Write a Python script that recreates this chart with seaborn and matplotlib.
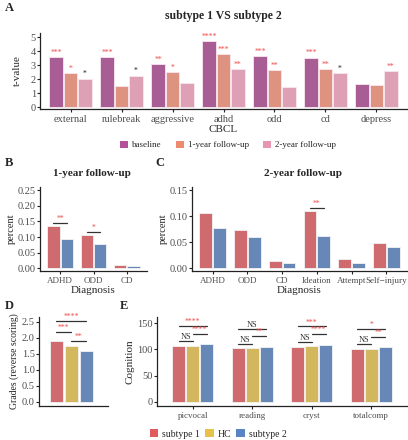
import numpy as np
import pandas as pd
import matplotlib
matplotlib.use('Agg')
import matplotlib.pyplot as plt
from matplotlib.patches import Patch
import seaborn as sns

# ---- A: CBCL t-values, subtype 1 vs subtype 2
cbcl_scales = ['external', 'rulebreak', 'aggressive', 'adhd', 'odd', 'cd', 'depress']
timepoints = ['baseline', '1-year follow-up', '2-year follow-up']
t_baseline = [3.6, 3.6, 3.1, 4.7, 3.65, 3.55, 1.65]
t_year1 = [2.45, 1.5, 2.5, 3.8, 2.65, 2.7, 1.6]
t_year2 = [2.05, 2.25, 1.75, 2.7, 1.45, 2.45, 2.6]
stars_baseline = ['***', '***', '**', '****', '***', '***', '']
stars_year1 = ['*', '', '*', '***', '**', '**', '']
stars_year2 = ['*', '*', '', '**', '', '*', '**']

# ---- B / C: diagnosis rates
diag_1yr = ['ADHD', 'ODD', 'CD']
pct_1yr_sub1 = [0.135, 0.105, 0.011]
pct_1yr_sub2 = [0.093, 0.077, 0.008]
sig_1yr = ['**', '*', '']
diag_2yr = ['ADHD', 'ODD', 'CD', 'Ideation', 'Attempt', 'Self\u2212injury']
pct_2yr_sub1 = [0.106, 0.073, 0.013, 0.109, 0.018, 0.049]
pct_2yr_sub2 = [0.078, 0.060, 0.011, 0.061, 0.010, 0.041]
sig_2yr = ['', '', '', '**', '', '']

# ---- D: grades
groups = ['subtype 1', 'HC', 'subtype 2']
grades = [1.9, 1.75, 1.6]
grade_sig = ['***', '**', '****']   # 1-2, 2-3, 1-3

# ---- E: cognition
cog_tests = ['picvocal', 'reading', 'cryst', 'totalcomp']
cog_sub1 = [106, 103, 105, 101]
cog_hc = [107, 103, 106, 101]
cog_sub2 = [110, 105, 109, 104]
cog_sig_12 = ['NS', 'NS', 'NS', 'NS']
cog_sig_23 = ['****', '**', '****', '**']
cog_sig_13 = ['****', 'NS', '***', '*']

time_colors = ['#B4519A', '#EE8A71', '#E796B0']
group_colors = ['#E05A5E', '#E6C14B', '#5A84C4']
star_red = '#EE4C4C'

sns.set_theme(style='ticks')
plt.rcParams['font.family'] = ['Liberation Serif', 'DejaVu Serif']
plt.rcParams['axes.linewidth'] = 0.9
plt.rcParams['xtick.major.size'] = 2
plt.rcParams['ytick.major.size'] = 2
plt.rcParams['xtick.major.pad'] = 2
plt.rcParams['ytick.major.pad'] = 1

W, H = 408, 440
fig = plt.figure(figsize=(W / 100, H / 100), dpi=100)


def px_axes(l, t, r, b):
    return fig.add_axes([l / W, 1 - b / H, (r - l) / W, (b - t) / H])


def style_axes(ax, fs=7.5):
    sns.despine(ax=ax)
    ax.tick_params(labelsize=fs, colors='#222222', labelcolor='#4d4d4d', width=0.8)
    for s in ['left', 'bottom']:
        ax.spines[s].set_color('#222222')


def bracket(ax, x1, x2, y, label, fs=5.5):
    ax.plot([x1, x2], [y, y], color='#333333', lw=0.9)
    col = '#333333' if label == 'NS' else star_red
    ax.text((x1 + x2) / 2, y, label, ha='center', va='bottom', fontsize=fs if label != 'NS' else 6,
            color=col)


# ================= A =================
axA = px_axes(40, 33, 407, 109)
dfA = pd.DataFrame({
    'scale': cbcl_scales * 3,
    'time': np.repeat(timepoints, len(cbcl_scales)),
    't': t_baseline + t_year1 + t_year2,
})
sns.barplot(data=dfA, x='scale', y='t', hue='time', hue_order=timepoints,
            palette=time_colors, width=0.85, gap=0.08, edgecolor='#f7e6ef', linewidth=0.6,
            legend=False, ax=axA)
star_sets = [stars_baseline, stars_year1, stars_year2]
for k, cont in enumerate(axA.containers):
    for i, bar in enumerate(cont):
        s = star_sets[k][i]
        if not s:
            continue
        col = '#222222' if (k == 2 and s == '*') else star_red
        axA.text(bar.get_x() + bar.get_width() / 2, bar.get_height() + 0.03, s,
                 ha='center', va='bottom', fontsize=5.5, color=col)
axA.set_xlim(-0.6, 6.6)
axA.set_ylim(-0.12, 5.3)
axA.set_yticks([0, 1, 2, 3, 4, 5])
style_axes(axA, 7.5)
axA.set_xlabel('CBCL', fontsize=8, labelpad=1)
axA.set_ylabel('t-value', fontsize=8, labelpad=6)
fig.text(223 / W, 1 - 16 / H, 'subtype 1 VS subtype 2', ha='center', va='center',
         fontsize=8.5, fontweight='bold')
fig.legend(handles=[Patch(facecolor=c, edgecolor='none') for c in time_colors],
           labels=timepoints, loc='center', bbox_to_anchor=(228 / W, 1 - 145 / H),
           ncol=3, frameon=False, fontsize=6.5, handlelength=0.9, handleheight=0.9,
           handletextpad=0.4, columnspacing=1.6)

# ================= B / C =================
def diag_panel(ax, cats, v1, v2, sigs, ymax, yticks):
    df = pd.DataFrame({
        'diag': cats * 2,
        'grp': ['subtype 1'] * len(cats) + ['subtype 2'] * len(cats),
        'pct': v1 + v2,
    })
    sns.barplot(data=df, x='diag', y='pct', hue='grp', palette=[group_colors[0], group_colors[2]],
                width=0.8, gap=0.08, edgecolor='#f2f2f2', linewidth=0.6, legend=False, ax=ax)
    c1, c2 = ax.containers
    for i, s in enumerate(sigs):
        if not s:
            continue
        b1, b2 = c1[i], c2[i]
        x1 = b1.get_x() + b1.get_width() / 2
        x2 = b2.get_x() + b2.get_width() / 2
        y = max(b1.get_height(), b2.get_height()) + ymax * 0.045
        bracket(ax, x1, x2, y, s)
    ax.set_xlim(-0.6, len(cats) - 0.4)
    ax.set_ylim(-ymax * 0.035, ymax * 1.04)
    ax.set_yticks(yticks)
    ax.set_yticklabels([f'{t:.2f}' for t in yticks])
    style_axes(ax, 7.5)
    ax.tick_params(axis='x', labelsize=6.5)
    ax.set_xlabel('Diagnosis', fontsize=8, labelpad=1)
    ax.set_ylabel('percent', fontsize=7.5, labelpad=1)


axB = px_axes(40, 187, 147, 271)
diag_panel(axB, diag_1yr, pct_1yr_sub1, pct_1yr_sub2, sig_1yr, 0.25,
           [0, 0.05, 0.10, 0.15, 0.20, 0.25])
fig.text(92 / W, 1 - 173 / H, '1-year follow-up', ha='center', va='center',
         fontsize=8, fontweight='bold')

axC = px_axes(192, 187, 407, 271)
diag_panel(axC, diag_2yr, pct_2yr_sub1, pct_2yr_sub2, sig_2yr, 0.15, [0, 0.05, 0.10, 0.15])
fig.text(303 / W, 1 - 173 / H, '2-year follow-up', ha='center', va='center',
         fontsize=8, fontweight='bold')

# ================= D =================
axD = px_axes(39, 317, 108, 406)
dfD = pd.DataFrame({'grp': groups, 'grade': grades})
sns.barplot(data=dfD, x='grp', y='grade', hue='grp', palette=group_colors, width=0.87,
            edgecolor='#f2f2f2', linewidth=0.6, legend=False, ax=axD)
ctr = [c[0].get_x() + c[0].get_width() / 2 for c in axD.containers]
bracket(axD, ctr[0], ctr[1], 2.19, grade_sig[0])
bracket(axD, ctr[1], ctr[2], 1.9, grade_sig[1])
bracket(axD, ctr[0], ctr[2], 2.52, grade_sig[2])
axD.set_xlim(-1.15, 3.45)
axD.set_ylim(-0.13, 2.65)
axD.set_yticks([0, 0.5, 1.0, 1.5, 2.0, 2.5])
axD.set_yticklabels([f'{t:.1f}' for t in [0, 0.5, 1.0, 1.5, 2.0, 2.5]])
style_axes(axD, 7.5)
axD.set_xticks([])
axD.tick_params(axis='x', length=0)
axD.set_xlabel('')
axD.set_ylabel('Grades (reverse scoring)', fontsize=7, labelpad=2)

# ================= E =================
axE = px_axes(157, 317, 407, 406)
dfE = pd.DataFrame({
    'test': cog_tests * 3,
    'grp': np.repeat(groups, len(cog_tests)),
    'score': cog_sub1 + cog_hc + cog_sub2,
})
sns.barplot(data=dfE, x='test', y='score', hue='grp', hue_order=groups, palette=group_colors,
            width=0.7, gap=0.08, edgecolor='#f2f2f2', linewidth=0.6, legend=False, ax=axE)
cE = axE.containers
for i in range(len(cog_tests)):
    xs = [c[i].get_x() + c[i].get_width() / 2 for c in cE]
    top = max(c[i].get_height() for c in cE)
    bracket(axE, xs[0], xs[1], top + 6, cog_sig_12[i])
    bracket(axE, xs[1], xs[2], top + 20, cog_sig_23[i])
    bracket(axE, xs[0], xs[2], top + 35, cog_sig_13[i])
axE.set_xlim(-0.6, 3.6)
axE.set_ylim(-8, 162)
axE.set_yticks([0, 50, 100, 150])
style_axes(axE, 7.5)
axE.tick_params(axis='x', labelsize=6.5)
axE.set_xlabel('')
axE.set_ylabel('Cognition', fontsize=8, labelpad=2)
fig.legend(handles=[Patch(facecolor=c, edgecolor='none') for c in group_colors],
           labels=groups, loc='center', bbox_to_anchor=(218 / W, 1 - 434 / H),
           ncol=3, frameon=False, fontsize=7, handlelength=0.9, handleheight=0.9,
           handletextpad=0.4, columnspacing=0.5)

# panel letters
for lab, (x, y) in {'A': (5, 8), 'B': (5, 163), 'C': (155, 163),
                    'D': (5, 306), 'E': (120, 306)}.items():
    fig.text(x / W, 1 - y / H, lab, ha='left', va='center', fontsize=9, fontweight='bold')

fig.savefig('out.png', dpi=100)
